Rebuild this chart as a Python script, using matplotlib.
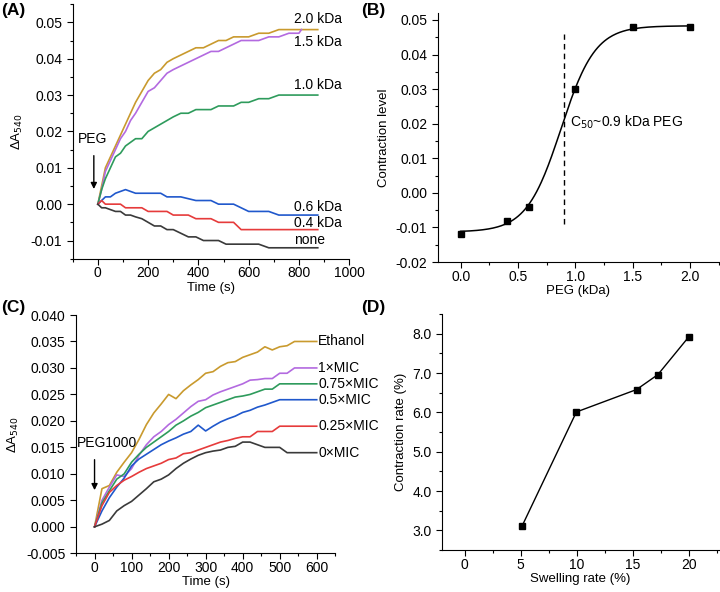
import numpy as np
import matplotlib
matplotlib.use("Agg")
import matplotlib.pyplot as plt
from matplotlib.ticker import MultipleLocator, FormatStrFormatter

plt.rcParams['font.family'] = ['Liberation Sans', 'DejaVu Sans']
plt.rcParams['font.size'] = 9.5
plt.rcParams['axes.unicode_minus'] = False

# ---- (A) PEG of different size ----
t_a = [0, 15, 30, 50, 70, 90, 110, 130, 150, 175, 200, 225, 250, 275, 300, 330,
       360, 390, 420, 450, 480, 510, 540, 570, 600, 640, 680, 720, 760, 800, 840, 875]
peg_20 = [0, 0.005, 0.010, 0.013, 0.016, 0.019, 0.022, 0.025, 0.028, 0.031, 0.034, 0.036,
          0.037, 0.039, 0.040, 0.041, 0.042, 0.043, 0.043, 0.044, 0.045, 0.045, 0.046, 0.046,
          0.046, 0.047, 0.047, 0.048, 0.048, 0.048, 0.048, 0.048]
t_a15 = [0, 15, 30, 50, 70, 90, 110, 130, 150, 175, 200, 225, 250, 275, 300, 330,
         360, 390, 420, 450, 480, 510, 540, 570, 600, 640, 680, 720, 760, 800, 810]
peg_15 = [0, 0.004, 0.009, 0.012, 0.015, 0.018, 0.020, 0.023, 0.025, 0.028, 0.031, 0.032,
          0.034, 0.036, 0.037, 0.038, 0.039, 0.040, 0.041, 0.042, 0.042, 0.043, 0.044, 0.045,
          0.045, 0.045, 0.046, 0.046, 0.047, 0.047, 0.048]
peg_10 = [0, 0.004, 0.007, 0.010, 0.013, 0.014, 0.016, 0.017, 0.018, 0.018, 0.020, 0.021,
          0.022, 0.023, 0.024, 0.025, 0.025, 0.026, 0.026, 0.026, 0.027, 0.027, 0.027, 0.028,
          0.028, 0.029, 0.029, 0.030, 0.030, 0.030, 0.030, 0.030]
peg_06 = [0, 0.001, 0.002, 0.002, 0.003, 0.0035, 0.004, 0.0035, 0.003, 0.003, 0.003, 0.003,
          0.003, 0.002, 0.002, 0.002, 0.0015, 0.001, 0.001, 0.001, 0.0, 0.0, 0.0, -0.001,
          -0.002, -0.002, -0.002, -0.003, -0.003, -0.003, -0.003, -0.003]
peg_04 = [0, 0.001, 0.0, 0.0, 0.0, 0.0, -0.001, -0.001, -0.001, -0.001, -0.002, -0.002,
          -0.002, -0.002, -0.003, -0.003, -0.003, -0.004, -0.004, -0.004, -0.005, -0.005,
          -0.005, -0.007, -0.007, -0.007, -0.007, -0.007, -0.007, -0.007, -0.007, -0.007]
peg_none = [0, -0.001, -0.001, -0.0015, -0.002, -0.002, -0.003, -0.003, -0.0035, -0.004,
            -0.005, -0.006, -0.006, -0.007, -0.007, -0.008, -0.009, -0.009, -0.010, -0.010,
            -0.010, -0.011, -0.011, -0.011, -0.011, -0.011, -0.012, -0.012, -0.012, -0.012,
            -0.012, -0.012]
labels_a = ['2.0 kDa', '1.5 kDa', '1.0 kDa', '0.6 kDa', '0.4 kDa', 'none']
label_y_a = [0.051, 0.0446, 0.0327, -0.0007, -0.0051, -0.0099]

# ---- (B) contraction level vs PEG size ----
peg_kda = [0.0, 0.4, 0.6, 1.0, 1.5, 2.0]
contraction = [-0.012, -0.008, -0.004, 0.030, 0.048, 0.048]
# Boltzmann fit parameters
fit_a1, fit_a2, fit_x0, fit_dx = -0.0113, 0.0483, 0.875, 0.15

# ---- (C) PEG1000 with MIC treatments ----
t_c = [0, 20, 40, 60, 80, 100, 120, 140, 160, 180, 200, 220, 240, 260, 280, 300,
       320, 340, 360, 380, 400, 420, 440, 460, 480, 500, 520, 540, 560, 580, 600]
ethanol = [0, 0.0072, 0.0078, 0.0103, 0.0122, 0.014, 0.0165, 0.0193, 0.0215, 0.0232, 0.025,
           0.0242, 0.0257, 0.0268, 0.0278, 0.029, 0.0293, 0.0303, 0.031, 0.0312, 0.032,
           0.0325, 0.033, 0.034, 0.0334, 0.034, 0.0342, 0.035, 0.035, 0.035, 0.035]
mic_1 = [0, 0.005, 0.0075, 0.0098, 0.0095, 0.011, 0.0135, 0.0155, 0.017, 0.018, 0.0193,
         0.0203, 0.0215, 0.0227, 0.0237, 0.024, 0.0249, 0.0255, 0.026, 0.0265, 0.027,
         0.0277, 0.0278, 0.028, 0.028, 0.029, 0.029, 0.030, 0.030, 0.030, 0.030]
mic_075 = [0, 0.0045, 0.0068, 0.009, 0.010, 0.0122, 0.0137, 0.015, 0.016, 0.017, 0.018,
           0.0192, 0.020, 0.0209, 0.0216, 0.0225, 0.023, 0.0235, 0.024, 0.0245, 0.0247,
           0.025, 0.0255, 0.026, 0.026, 0.027, 0.027, 0.027, 0.027, 0.027, 0.027]
mic_05 = [0, 0.003, 0.0055, 0.0075, 0.0092, 0.0115, 0.0128, 0.0137, 0.0146, 0.0155, 0.0162,
          0.0168, 0.0175, 0.018, 0.0192, 0.0181, 0.019, 0.0198, 0.0204, 0.0209, 0.0216,
          0.022, 0.0226, 0.023, 0.0235, 0.024, 0.024, 0.024, 0.024, 0.024, 0.024]
mic_025 = [0, 0.004, 0.0065, 0.0078, 0.0088, 0.0095, 0.0103, 0.011, 0.0115, 0.012, 0.0127,
           0.013, 0.0138, 0.014, 0.0145, 0.015, 0.0155, 0.016, 0.0163, 0.0167, 0.017,
           0.017, 0.018, 0.018, 0.018, 0.019, 0.019, 0.019, 0.019, 0.019, 0.019]
mic_0 = [0, 0.0005, 0.0012, 0.003, 0.004, 0.0048, 0.006, 0.0072, 0.0085, 0.009, 0.0098,
         0.011, 0.012, 0.0128, 0.0135, 0.014, 0.0143, 0.0145, 0.015, 0.0152, 0.016, 0.016,
         0.0155, 0.015, 0.015, 0.015, 0.014, 0.014, 0.014, 0.014, 0.014]
labels_c = ['Ethanol', '1×MIC', '0.75×MIC', '0.5×MIC', '0.25×MIC', '0×MIC']

# ---- (D) contraction vs swelling ----
swelling = [5.1, 9.95, 15.3, 17.2, 19.95]
contr_rate = [3.1, 6.01, 6.58, 6.96, 7.92]

colors = ['#C99A2E', '#B36AE0', '#2E9B5C', '#2058CC', '#E63B3B', '#3A3A3A']


def style(ax):
    for s in ['top', 'right']:
        ax.spines[s].set_visible(False)
    ax.tick_params(which='major', direction='out', length=4, width=0.8, labelsize=10)
    ax.tick_params(which='minor', direction='out', length=2.5, width=0.8)
    ax.tick_params(axis='x', which='major', pad=1.5)


fig = plt.figure(figsize=(7.2, 5.92), dpi=100)

# (A)
ax = fig.add_axes([0.101, 0.563, 0.384, 0.430])
series_a = [(t_a, peg_20), (t_a15, peg_15), (t_a, peg_10), (t_a, peg_06), (t_a, peg_04), (t_a, peg_none)]
for (tt, yy), c in zip(series_a, colors):
    ax.plot(tt, yy, color=c, lw=1.2)
for lab, ly in zip(labels_a, label_y_a):
    ax.text(781, ly, lab, ha='left', va='center', fontsize=10)
ax.annotate('', xy=(-16, 0.0034), xytext=(-16, 0.0141),
            arrowprops=dict(arrowstyle='-|>', color='k', lw=1.0, mutation_scale=9))
ax.text(-23, 0.018, 'PEG', ha='center', va='center', fontsize=10)
ax.set_xlim(-100, 1000)
ax.set_ylim(-0.015, 0.055)
ax.xaxis.set_major_locator(MultipleLocator(200))
ax.xaxis.set_minor_locator(MultipleLocator(100))
ax.yaxis.set_major_locator(MultipleLocator(0.01))
ax.yaxis.set_minor_locator(MultipleLocator(0.005))
ax.yaxis.set_major_formatter(FormatStrFormatter('%.2f'))
ax.set_xlabel('Time (s)', labelpad=1)
ax.set_ylabel('ΔA$_{540}$', labelpad=4)
style(ax)
fig.text(0.002, 0.995, '(A)', fontsize=12.5, fontweight='bold', va='top')

# (B)
ax = fig.add_axes([0.608, 0.5574, 0.390, 0.4206])
xs = np.linspace(0, 2.0, 200)
ax.plot(xs, fit_a2 + (fit_a1 - fit_a2) / (1 + np.exp((xs - fit_x0) / fit_dx)), color='k', lw=1.1)
ax.plot(peg_kda, contraction, 's', color='k', ms=4)
ax.plot([0.9, 0.9], [-0.009, 0.046], '--', color='k', lw=1.0, dashes=(4, 3))
ax.text(0.95, 0.0205, 'C$_{50}$~0.9 kDa PEG', ha='left', va='center', fontsize=10)
ax.set_xlim(-0.2, 2.25)
ax.set_ylim(-0.02, 0.052)
ax.xaxis.set_major_locator(MultipleLocator(0.5))
ax.xaxis.set_minor_locator(MultipleLocator(0.25))
ax.yaxis.set_major_locator(MultipleLocator(0.01))
ax.yaxis.set_minor_locator(MultipleLocator(0.005))
ax.xaxis.set_major_formatter(FormatStrFormatter('%.1f'))
ax.yaxis.set_major_formatter(FormatStrFormatter('%.2f'))
ax.set_xlabel('PEG (kDa)', labelpad=1)
ax.set_ylabel('Contraction level', labelpad=4)
style(ax)
fig.text(0.502, 0.995, '(B)', fontsize=12.5, fontweight='bold', va='top')

# (C)
ax = fig.add_axes([0.1056, 0.0654, 0.36, 0.4025])
series_c = [ethanol, mic_1, mic_075, mic_05, mic_025, mic_0]
for yy, c, lab in zip(series_c, colors, labels_c):
    ax.plot(t_c, yy, color=c, lw=1.2)
    ax.text(604, yy[-1], lab, ha='left', va='center', fontsize=10, clip_on=False)
ax.annotate('', xy=(0, 0.0064), xytext=(0, 0.0132),
            arrowprops=dict(arrowstyle='-|>', color='k', lw=1.0, mutation_scale=9))
ax.text(34, 0.0158, 'PEG1000', ha='center', va='center', fontsize=10)
ax.set_xlim(-50, 650)
ax.set_ylim(-0.005, 0.040)
ax.xaxis.set_major_locator(MultipleLocator(100))
ax.xaxis.set_minor_locator(MultipleLocator(50))
ax.yaxis.set_major_locator(MultipleLocator(0.005))
ax.yaxis.set_major_formatter(FormatStrFormatter('%.3f'))
ax.set_xlabel('Time (s)', labelpad=1)
ax.set_ylabel('ΔA$_{540}$', labelpad=4)
style(ax)
fig.text(0.002, 0.493, '(C)', fontsize=12.5, fontweight='bold', va='top')

# (D)
ax = fig.add_axes([0.614, 0.0709, 0.384, 0.3986])
ax.plot(swelling, contr_rate, '-s', color='k', lw=1.0, ms=4)
ax.set_xlim(-2, 22.6)
ax.set_ylim(2.5, 8.5)
ax.xaxis.set_major_locator(MultipleLocator(5))
ax.xaxis.set_minor_locator(MultipleLocator(2.5))
ax.yaxis.set_major_locator(MultipleLocator(1))
ax.yaxis.set_minor_locator(MultipleLocator(0.5))
ax.yaxis.set_major_formatter(FormatStrFormatter('%.1f'))
ax.set_xlabel('Swelling rate (%)', labelpad=1)
ax.set_ylabel('Contraction rate (%)', labelpad=4)
style(ax)
fig.text(0.502, 0.493, '(D)', fontsize=12.5, fontweight='bold', va='top')

fig.savefig('out.png', dpi=100)
